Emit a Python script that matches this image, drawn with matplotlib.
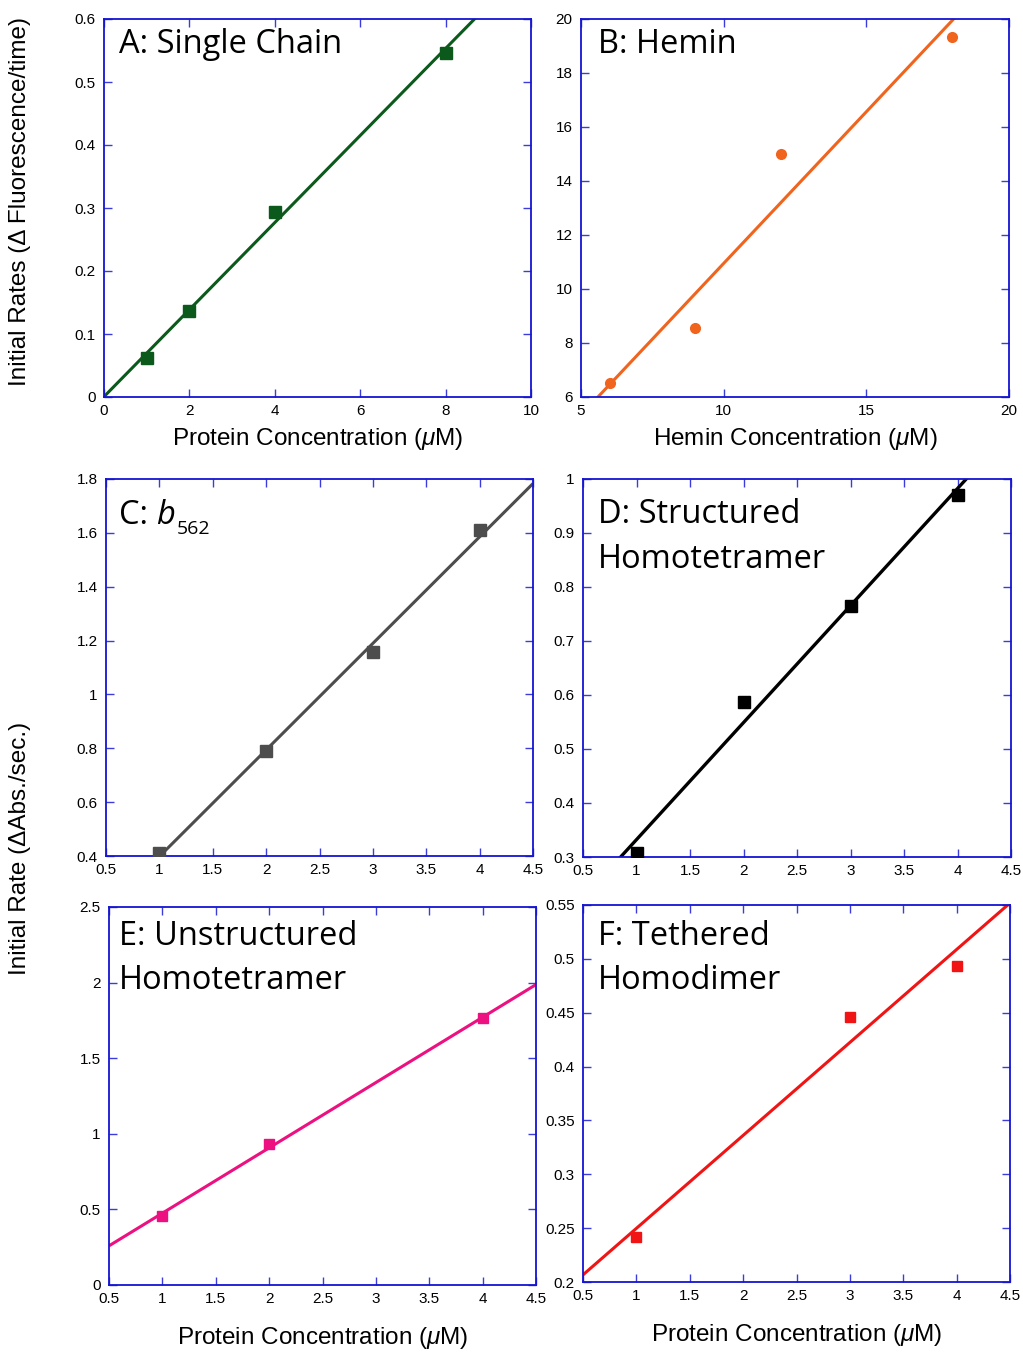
import numpy as np
import matplotlib
matplotlib.use("Agg")
import matplotlib.pyplot as plt

plt.rcParams['font.family'] = ['Liberation Sans', 'DejaVu Sans']
plt.rcParams['mathtext.fontset'] = 'custom'
plt.rcParams['mathtext.rm'] = 'Liberation Sans'
plt.rcParams['mathtext.it'] = 'Liberation Sans:italic'

# ---- data ----
a_x = [1, 2, 4, 8]
a_y = [0.0625, 0.136, 0.2934, 0.5465]
b_x = [6, 9, 12, 18]
b_y = [6.51, 8.55, 15.0, 19.35]
c_x = [1, 2, 3, 4]
c_y = [0.412, 0.790, 1.156, 1.609]
d_x = [1, 2, 3, 4]
d_y = [0.307, 0.587, 0.765, 0.970]
e_x = [1, 2, 4]
e_y = [0.459, 0.931, 1.763]
f_x = [1, 3, 4]
f_y = [0.242, 0.4458, 0.4931]

a_xt = [0, 2, 4, 6, 8, 10]
a_yt = [0, 0.1, 0.2, 0.3, 0.4, 0.5, 0.6]
b_xt = [5, 10, 15, 20]
b_yt = [6, 8, 10, 12, 14, 16, 18, 20]
cdef_xt = [0.5, 1, 1.5, 2, 2.5, 3, 3.5, 4, 4.5]
c_yt = [0.4, 0.6, 0.8, 1.0, 1.2, 1.4, 1.6, 1.8]
d_yt = [0.3, 0.4, 0.5, 0.6, 0.7, 0.8, 0.9, 1.0]
e_yt = [0, 0.5, 1.0, 1.5, 2.0, 2.5]
f_yt = [0.2, 0.25, 0.3, 0.35, 0.4, 0.45, 0.5, 0.55]

W, H = 1023, 1352
fig = plt.figure(figsize=(W / 100, H / 100), dpi=100)

def px_axes(x0, x1, y0, y1):
    return fig.add_axes([x0 / W, 1 - y1 / H, (x1 - x0) / W, (y1 - y0) / H])

def fmt(v):
    return '%g' % v

SPINE = '#1414d2'
TICKC = '#3c3cd8'
LABFONT = 'Open Sans'
LABSIZE = 23.5
AXSIZE = 17.5

def style(ax, xt, yt, xlim, ylim):
    ax.set_xlim(*xlim)
    ax.set_ylim(*ylim)
    ax.set_xticks(xt)
    ax.set_yticks(yt)
    ax.set_xticklabels([fmt(v) for v in xt])
    ax.set_yticklabels([fmt(v) for v in yt])
    for s in ax.spines.values():
        s.set_color(SPINE)
        s.set_linewidth(1.3)
    ax.tick_params(direction='in', length=6, width=1.0, color=TICKC,
                   top=True, right=True, labelsize=11, labelcolor='black')
    ax.tick_params(axis='x', pad=5)
    ax.tick_params(axis='y', pad=6)

def fit_line(ax, x, y, xlim, color, lw=2.2):
    k, b = np.polyfit(x, y, 1)
    xs = np.array(xlim, dtype=float)
    ax.plot(xs, k * xs + b, color=color, lw=lw, zorder=2, solid_capstyle='butt')

def label(ax, lines, first_base, step, size=LABSIZE, dx=15):
    h = ax.get_window_extent().height
    w = ax.get_window_extent().width
    for i, ln in enumerate(lines):
        ax.text(dx / w, 1 - (first_base + i * step) / h, ln,
                transform=ax.transAxes, fontsize=size, family=LABFONT,
                va='baseline', ha='left', color='black')

XLAB = 'Protein Concentration ($\\mu$M)'

# A
axA = px_axes(104, 531, 19, 397)
style(axA, a_xt, a_yt, (0, 10), (0, 0.6))
fit_line(axA, a_x, a_y, (0, 10), '#0b5a1c')
axA.plot(a_x, a_y, 's', color='#0b5a1c', ms=8.5, zorder=3)
label(axA, ['A: Single Chain'], 34, 0)
axA.set_xlabel(XLAB, fontsize=AXSIZE, labelpad=6)

# B
axB = px_axes(581, 1009, 19, 397)
style(axB, b_xt, b_yt, (5, 20), (6, 20))
fit_line(axB, b_x, b_y, (5, 20), '#f0641e')
axB.plot(b_x, b_y, 'o', color='#f0641e', ms=7, zorder=3)
label(axB, ['B: Hemin'], 34, 0, dx=17)
axB.set_xlabel('Hemin Concentration ($\\mu$M)', fontsize=AXSIZE, labelpad=6)

# C
axC = px_axes(106, 533, 479, 856)
style(axC, cdef_xt, c_yt, (0.5, 4.5), (0.4, 1.8))
fit_line(axC, c_x, c_y, (0.5, 4.5), '#4d4d4d')
axC.plot(c_x, c_y, 's', color='#4d4d4d', ms=8, zorder=3)
hC = axC.get_window_extent().height
tC = axC.text(13 / axC.get_window_extent().width, 1 - 45 / hC, 'C: ',
              transform=axC.transAxes, fontsize=LABSIZE, family=LABFONT, va='baseline')
tb = axC.annotate('b', xy=(1, 0), xycoords=tC, xytext=(0, 0), textcoords='offset points',
                  fontsize=LABSIZE, family=LABFONT, style='italic', va='bottom', ha='left')
axC.annotate('562', xy=(1, 0), xycoords=tb, xytext=(1, -4), textcoords='offset points',
             fontsize=14, family=LABFONT, va='bottom', ha='left')

# D
axD = px_axes(583, 1011, 479, 857)
style(axD, cdef_xt, d_yt, (0.5, 4.5), (0.3, 1.0))
fit_line(axD, d_x, d_y, (0.5, 4.5), 'black', lw=2.4)
axD.plot(d_x, d_y, 's', color='black', ms=8, zorder=3)
label(axD, ['D: Structured', 'Homotetramer'], 44, 45)

# E
axE = px_axes(109, 536, 907, 1285)
style(axE, cdef_xt, e_yt, (0.5, 4.5), (0, 2.5))
fit_line(axE, e_x, e_y, (0.5, 4.5), '#ec1080')
axE.plot(e_x, e_y, 's', color='#ec1080', ms=7.5, zorder=3)
label(axE, ['E: Unstructured', 'Homotetramer'], 38, 44, dx=10)
axE.set_xlabel(XLAB, fontsize=AXSIZE, labelpad=14)

# F
axF = px_axes(583, 1010, 905, 1282)
style(axF, cdef_xt, f_yt, (0.5, 4.5), (0.2, 0.55))
fit_line(axF, f_x, f_y, (0.5, 4.5), '#f01414')
axF.plot(f_x, f_y, 's', color='#f01414', ms=7.5, zorder=3)
label(axF, ['F: Tethered', 'Homodimer'], 40, 44)
axF.set_xlabel(XLAB, fontsize=AXSIZE, labelpad=14)

# shared y labels
fig.text(20 / W, 1 - 202 / H, 'Initial Rates (\u0394 Fluorescence/time)', rotation=90,
         ha='center', va='center', fontsize=AXSIZE)
fig.text(20 / W, 1 - 848 / H, 'Initial Rate (\u0394Abs./sec.)', rotation=90,
         ha='center', va='center', fontsize=AXSIZE)

fig.savefig('out.png', dpi=100)
